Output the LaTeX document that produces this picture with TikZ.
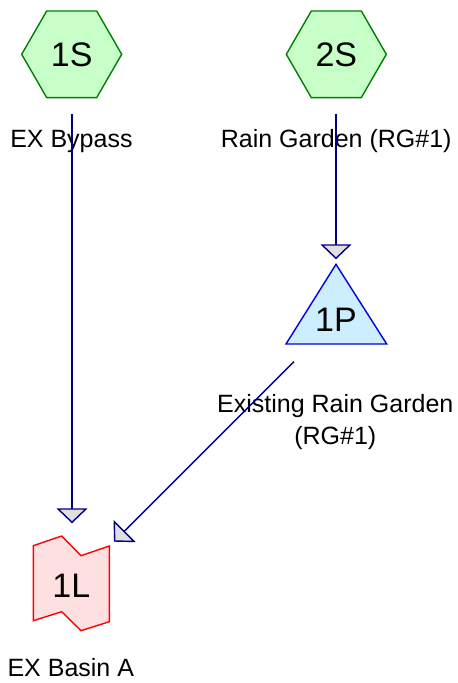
\documentclass[tikz,border=0pt]{standalone}
\usepackage{fontspec}
\setmainfont{Liberation Sans}
\usetikzlibrary{shapes.geometric,arrows.meta}
\definecolor{hexfill}{RGB}{200,255,200}
\definecolor{hexdraw}{RGB}{0,128,0}
\definecolor{pondfill}{RGB}{204,238,255}
\definecolor{ponddraw}{RGB}{0,0,230}
\definecolor{linkfill}{RGB}{255,224,224}
\definecolor{linkdraw}{RGB}{255,0,0}
\definecolor{navyline}{RGB}{0,0,128}
\definecolor{arrowgray}{RGB}{224,224,224}
\tikzset{
  hexnode/.style={regular polygon, regular polygon sides=6, minimum size=100pt,
    inner sep=0pt, outer sep=0pt, draw=hexdraw, fill=hexfill, line width=1.4pt,
    font=\fontsize{34}{40}\selectfont},
  pondshape/.style={draw=ponddraw, fill=pondfill, line width=1.4pt, line join=miter},
  linkshape/.style={draw=linkdraw, fill=linkfill, line width=1.4pt, line join=miter},
  numtext/.style={inner sep=0pt, font=\fontsize{34}{40}\selectfont},
  lbl/.style={inner sep=0pt, anchor=base, font=\fontsize{25}{29}\selectfont},
  flow/.style={draw=navyline, line width=1.4pt,
    -{Triangle[length=15pt, width=31pt, fill=arrowgray, line width=1.4pt]}}
}
\begin{document}
\begin{tikzpicture}[x=1pt,y=-1pt]
\path[use as bounding box] (0,0) rectangle (458,683);
% subcatchments
\node[hexnode] (s1) at (71.7,54.3) {1S};
\node[hexnode] (s2) at (336.3,54.3) {2S};
% pond
\path[pondshape] (286,344) -- (336,264.3) -- (386.7,344) -- cycle;
\node[numtext] (p1) at (336,319.5) {1P};
% link
\path[linkshape] (33.3,545.7) -- (61.7,536) -- (81,555.7) -- (109.3,546)
  -- (109.3,621.7) -- (81,630.7) -- (61.7,611.7) -- (33.3,620.7) -- cycle;
\node[numtext] (l1) at (71.3,586) {1L};
% labels
\node[lbl] (s1lab) at (71.4,147.3) {EX Bypass};
\node[lbl] (s2lab) at (336.2,147.3) {Rain Garden (RG\#1)};
\node[lbl] (p1laba) at (335.3,412.7) {Existing Rain Garden};
\node[lbl] (p1labb) at (335.3,444) {(RG\#1)};
\node[lbl] (l1lab) at (70.8,676.7) {EX Basin A};
% connector endpoints
\coordinate (s1out) at (72,114);
\coordinate (l1inA) at (72,523.3);
\coordinate (s2out) at (336,114);
\coordinate (p1in) at (336,259.3);
\coordinate (p1out) at (294,361.7);
\coordinate (l1inB) at (114,541.7);
% connectors
\draw[flow] (s1out) -- (l1inA);
\draw[flow] (s2out) -- (p1in);
\draw[flow] (p1out) -- (l1inB);
\end{tikzpicture}
\end{document}
